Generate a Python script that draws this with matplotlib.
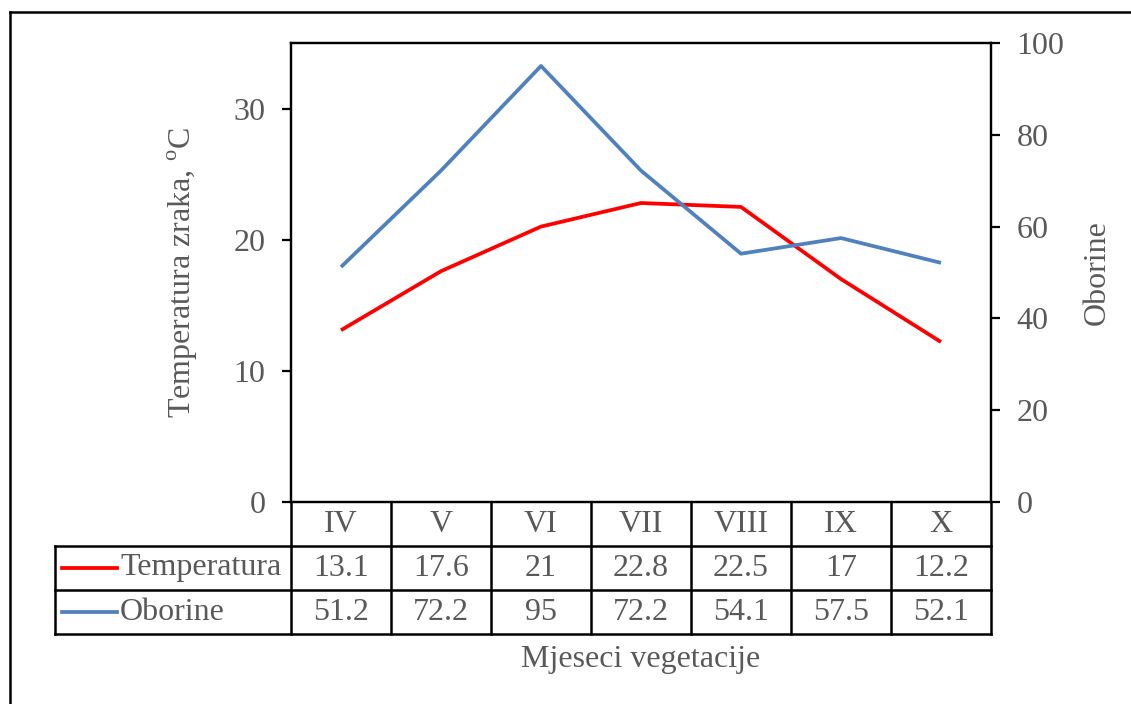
import matplotlib
matplotlib.use("Agg")
import matplotlib.pyplot as plt
from matplotlib.lines import Line2D
import matplotlib.transforms as mtransforms

months = ["IV", "V", "VI", "VII", "VIII", "IX", "X"]
temperatura = [13.1, 17.6, 21, 22.8, 22.5, 17, 12.2]
oborine = [51.2, 72.2, 95, 72.2, 54.1, 57.5, 52.1]
series_names = ["Temperatura", "Oborine"]

plt.rcParams["font.family"] = ["Liberation Serif", "DejaVu Serif"]
plt.rcParams["mathtext.fontset"] = "custom"
plt.rcParams["mathtext.rm"] = "Liberation Serif"

gray = "#595959"
red = "#FF0000"
blue = "#4F81BD"
fs = 23

fig = plt.figure(figsize=(11.31, 7.04), dpi=100)
ax = fig.add_axes([291 / 1131, 1 - 502 / 704, 700 / 1131, 459 / 704])
ax2 = ax.twinx()

x = [i + 0.5 for i in range(len(months))]
ax.plot(x, temperatura, color=red, lw=2.7, solid_capstyle="butt", zorder=3)
ax2.plot(x, oborine, color=blue, lw=2.7, solid_capstyle="butt", zorder=3)

ax.set_xlim(0, len(months))
ax.set_ylim(0, 35)
ax2.set_ylim(0, 100)
ax.set_yticks([0, 10, 20, 30])
ax2.set_yticks([0, 20, 40, 60, 80, 100])
ax.set_xticks([])

for a in (ax, ax2):
    for s in a.spines.values():
        s.set_linewidth(1.6)
        s.set_color("black")
    a.tick_params(axis="y", direction="out", length=6.5, width=1.6,
                  pad=12, labelsize=fs, labelcolor=gray, color="black")

ax.set_ylabel("Temperatura zraka, $^{\\mathrm{o}}$C", fontsize=fs, color=gray, labelpad=24)
ax2.set_ylabel("Oborine", fontsize=fs, color=gray, labelpad=13)

# data table below the plot
rh = 44 / 459  # row height in axes fraction
trans = mtransforms.blended_transform_factory(ax.transData, ax.transAxes)
lw_t = 1.8
n = len(months)
leg_left = -236 / 100

def hline(x0, x1, y):
    ax.add_line(Line2D([x0, x1], [y, y], transform=trans, color="black",
                       lw=lw_t, clip_on=False))

def vline(xv, y0, y1):
    ax.add_line(Line2D([xv, xv], [y0, y1], transform=trans, color="black",
                       lw=lw_t, clip_on=False))

hline(leg_left, n, -rh)
hline(leg_left, n, -2 * rh)
hline(leg_left, n, -3 * rh)
for i in range(n + 1):
    vline(i, 0, -3 * rh)
vline(leg_left, -rh, -3 * rh)

for i, m in enumerate(months):
    ax.text(i + 0.5, -0.5 * rh, m, transform=trans, ha="center", va="center",
            fontsize=fs, color=gray)
    ax.text(i + 0.5, -1.5 * rh, f"{temperatura[i]:g}", transform=trans,
            ha="center", va="center", fontsize=fs, color=gray)
    ax.text(i + 0.5, -2.5 * rh, f"{oborine[i]:g}", transform=trans,
            ha="center", va="center", fontsize=fs, color=gray)

for r, (name, col) in enumerate(zip(series_names, [red, blue])):
    yy = -(r + 1.5) * rh
    ax.add_line(Line2D([-2.29, -1.74], [yy, yy], transform=trans, color=col,
                       lw=2.7, clip_on=False))
    ax.text(-1.71, yy, name, transform=trans, ha="left", va="center",
            fontsize=fs, color=gray)

ax.text(n / 2, -3 * rh - 26 / 459, "Mjeseci vegetacije", transform=trans,
        ha="center", va="center", fontsize=fs, color=gray)

# outer chart border (cropped on right and bottom)
fig.add_artist(Line2D([10 / 1131, 10 / 1131], [0, 1 - 12 / 704],
                      transform=fig.transFigure, color="black", lw=1.8))
fig.add_artist(Line2D([10 / 1131, 1], [1 - 12 / 704, 1 - 12 / 704],
                      transform=fig.transFigure, color="black", lw=1.8))

fig.savefig("out.png", dpi=100)
